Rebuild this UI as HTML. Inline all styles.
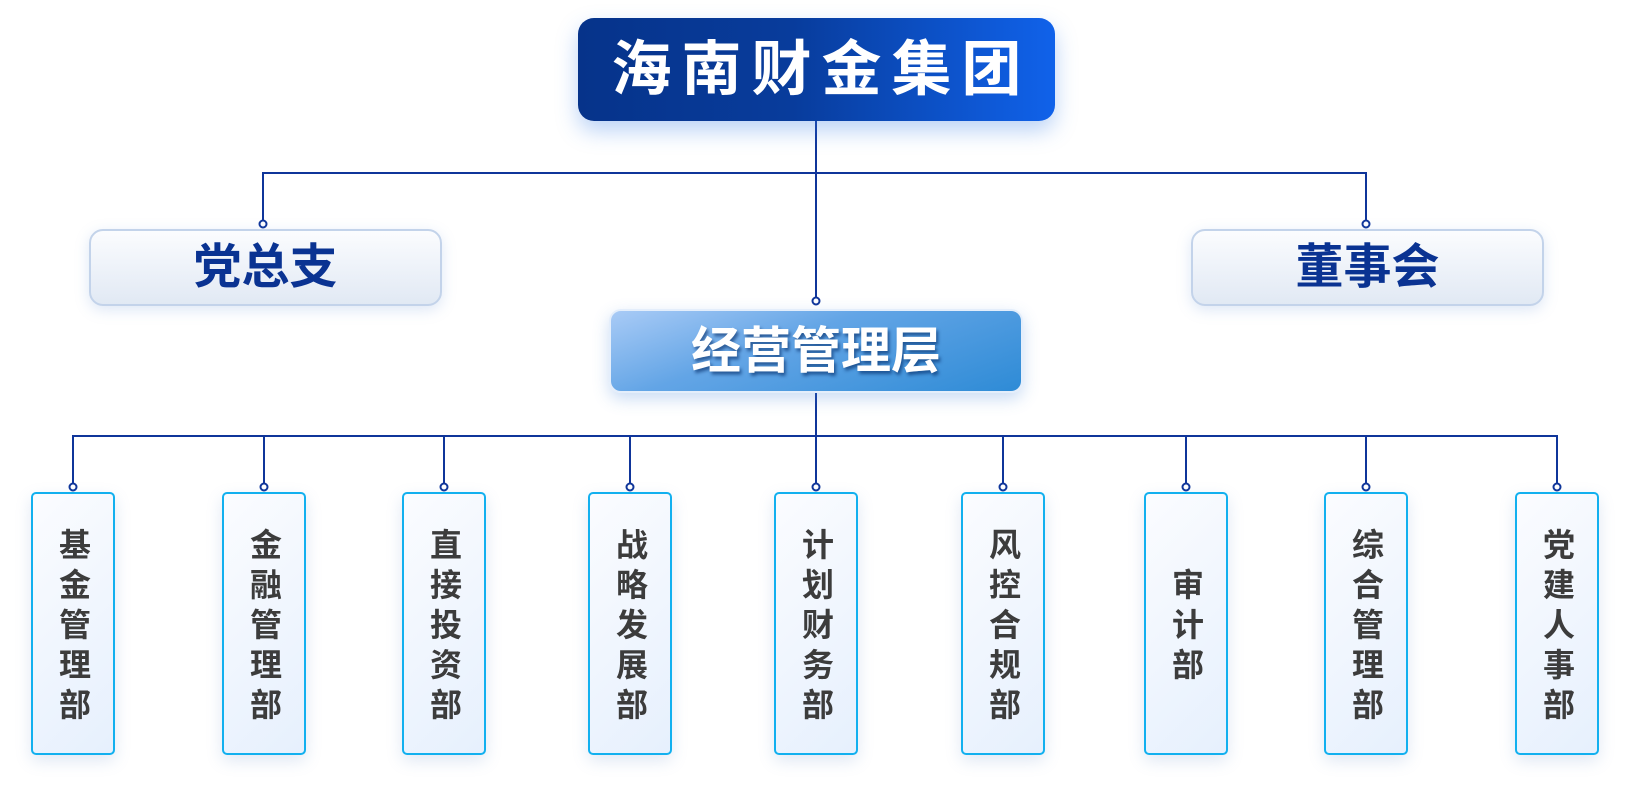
<!DOCTYPE html>
<html><head><meta charset="utf-8"><style>
*{margin:0;padding:0;box-sizing:border-box}
body{width:1632px;height:789px;background:#fff;position:relative;overflow:hidden;font-family:"Liberation Sans","Noto Sans CJK SC",sans-serif;font-weight:bold}
.top{position:absolute;left:578px;top:18px;width:477px;height:103px;border-radius:16px;background:linear-gradient(90deg,#06338a 0%,#083c9c 45%,#1062ea 100%);box-shadow:0 10px 22px rgba(60,130,230,.35);color:#fff;font-size:60px;letter-spacing:10px;text-align:center;line-height:103px;padding-left:10px}
.side{position:absolute;top:229px;width:353px;height:77px;border-radius:14px;border:2px solid #c3d3ea;background:linear-gradient(180deg,#fbfcfe 0%,#e1e9f4 100%);box-shadow:0 4px 14px rgba(120,160,220,.25);color:#0a3392;font-size:48px;text-align:center;line-height:73px}
.mg{position:absolute;left:609px;top:309px;width:414px;height:84px;border-radius:12px;border:2px solid #e4eefb;background:linear-gradient(160deg,#a9cbf6 0%,#63a5e6 40%,#2e8bd6 100%);box-shadow:0 6px 16px rgba(80,140,220,.3);color:#fff;font-size:50px;text-align:center;line-height:80px;text-shadow:2px 3px 3px rgba(0,40,100,.6)}
.d{position:absolute;top:492px;width:84px;height:263px;border:2px solid #12b0ef;border-radius:5px;background:linear-gradient(135deg,#fbfcff 0%,#e6f0fd 100%);box-shadow:0 6px 16px rgba(100,140,200,.2);display:flex;align-items:center;justify-content:center}
.d span{writing-mode:vertical-rl;font-size:32px;color:#3c3c3c;letter-spacing:8px;line-height:40px;margin-top:8px}
svg{position:absolute;left:0;top:0}
</style></head><body>
<svg width="1632" height="789">
<g stroke="#0f359a" stroke-width="2" fill="none">
<line x1="816" y1="121" x2="816" y2="297"/>
<polyline points="263,220 263,173 1366,173 1366,220"/>
<line x1="816" y1="393" x2="816" y2="483"/>
<polyline points="73,483 73,436 1557,436 1557,483"/>
<line x1="264" y1="436" x2="264" y2="483"/>
<line x1="444" y1="436" x2="444" y2="483"/>
<line x1="630" y1="436" x2="630" y2="483"/>
<line x1="1003" y1="436" x2="1003" y2="483"/>
<line x1="1186" y1="436" x2="1186" y2="483"/>
<line x1="1366" y1="436" x2="1366" y2="483"/>
</g>
<g stroke="#0f359a" stroke-width="2" fill="#fff">
<circle cx="263" cy="224" r="3.5"/><circle cx="1366" cy="224" r="3.5"/><circle cx="816" cy="301" r="3.5"/>
<circle cx="73" cy="487" r="3.5"/><circle cx="264" cy="487" r="3.5"/><circle cx="444" cy="487" r="3.5"/><circle cx="630" cy="487" r="3.5"/><circle cx="816" cy="487" r="3.5"/><circle cx="1003" cy="487" r="3.5"/><circle cx="1186" cy="487" r="3.5"/><circle cx="1366" cy="487" r="3.5"/><circle cx="1557" cy="487" r="3.5"/>
</g>
</svg>
<div class="top">海南财金集团</div>
<div class="side" style="left:89px">党总支</div>
<div class="side" style="left:1191px">董事会</div>
<div class="mg">经营管理层</div>
<div class="d" style="left:31px"><span>基金管理部</span></div>
<div class="d" style="left:222px"><span>金融管理部</span></div>
<div class="d" style="left:402px"><span>直接投资部</span></div>
<div class="d" style="left:588px"><span>战略发展部</span></div>
<div class="d" style="left:774px"><span>计划财务部</span></div>
<div class="d" style="left:961px"><span>风控合规部</span></div>
<div class="d" style="left:1144px"><span>审计部</span></div>
<div class="d" style="left:1324px"><span>综合管理部</span></div>
<div class="d" style="left:1515px"><span>党建人事部</span></div>
</body></html>
